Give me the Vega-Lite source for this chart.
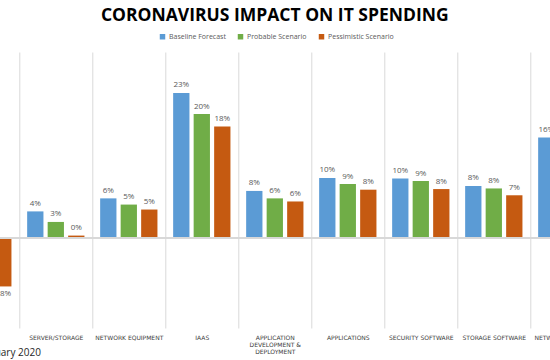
{
  "$schema": "https://vega.github.io/schema/vega-lite/v6.json",
  "width": 657,
  "height": 276,
  "autosize": "none",
  "padding": {"left": -53.7, "top": 52, "right": -53.3, "bottom": 32},
  "title": {"text": "CORONAVIRUS IMPACT ON IT SPENDING", "font": "Open Sans", "fontSize": 17.5, "fontWeight": "bold", "color": "#000000", "anchor": "middle", "offset": 9},
  "config": {
    "view": {"stroke": null},
    "font": "Open Sans"
  },
  "data": {"values": [
    {"category": "Devices", "series": "Pessimistic Scenario", "value": -0.078},
    {"category": "Server/Storage", "series": "Baseline Forecast", "value": 0.043},
    {"category": "Server/Storage", "series": "Probable Scenario", "value": 0.026},
    {"category": "Server/Storage", "series": "Pessimistic Scenario", "value": 0.004},
    {"category": "Network Equipment", "series": "Baseline Forecast", "value": 0.064},
    {"category": "Network Equipment", "series": "Probable Scenario", "value": 0.054},
    {"category": "Network Equipment", "series": "Pessimistic Scenario", "value": 0.046},
    {"category": "IaaS", "series": "Baseline Forecast", "value": 0.234},
    {"category": "IaaS", "series": "Probable Scenario", "value": 0.200},
    {"category": "IaaS", "series": "Pessimistic Scenario", "value": 0.180},
    {"category": "Application Development & Deployment", "series": "Baseline Forecast", "value": 0.076},
    {"category": "Application Development & Deployment", "series": "Probable Scenario", "value": 0.064},
    {"category": "Application Development & Deployment", "series": "Pessimistic Scenario", "value": 0.059},
    {"category": "Applications", "series": "Baseline Forecast", "value": 0.097},
    {"category": "Applications", "series": "Probable Scenario", "value": 0.087},
    {"category": "Applications", "series": "Pessimistic Scenario", "value": 0.078},
    {"category": "Security Software", "series": "Baseline Forecast", "value": 0.096},
    {"category": "Security Software", "series": "Probable Scenario", "value": 0.092},
    {"category": "Security Software", "series": "Pessimistic Scenario", "value": 0.079},
    {"category": "Storage Software", "series": "Baseline Forecast", "value": 0.084},
    {"category": "Storage Software", "series": "Probable Scenario", "value": 0.080},
    {"category": "Storage Software", "series": "Pessimistic Scenario", "value": 0.069},
    {"category": "Network Software", "series": "Baseline Forecast", "value": 0.162}
  ]},
  "encoding": {
    "y": {"field": "value", "type": "quantitative", "scale": {"domain": [-0.145, 0.30], "nice": false, "zero": false}, "axis": null}
  },
  "layer": [
    {
      "encoding": {
        "x": {"field": "category", "type": "nominal", "sort": null,
          "scale": {"type": "band", "paddingInner": 0, "paddingOuter": 0},
          "axis": {
            "title": "Source: IDC, February 2020", "titleX": -32, "titleY": 24, "titleAnchor": "start", "titleAlign": "left", "titleBaseline": "middle",
            "titleFont": "Open Sans", "titleFontSize": 10, "titleFontWeight": "normal", "titleColor": "#262626",
            "domain": false, "ticks": false, "grid": true, "tickBand": "extent", "gridColor": "#d9d9d9", "gridWidth": 1,
            "labelAngle": 0, "labelFont": "DejaVu Sans", "labelFontSize": 6, "labelColor": "#404040", "labelPadding": 6, "labelLineHeight": 7, "labelLimit": 0,
            "labelExpr": "datum.label == 'Devices' ? '' : datum.label == 'Application Development & Deployment' ? ['APPLICATION', 'DEVELOPMENT &', 'DEPLOYMENT'] : upper(datum.label)"
          }
        },
        "xOffset": {"field": "series", "type": "nominal",
          "scale": {"domain": ["Baseline Forecast", "Probable Scenario", "Pessimistic Scenario"], "paddingInner": 0.205, "paddingOuter": 0.383}}
      },
      "layer": [
        {
          "mark": {"type": "bar"},
          "encoding": {
            "color": {"field": "series", "type": "nominal",
              "scale": {"domain": ["Baseline Forecast", "Probable Scenario", "Pessimistic Scenario"], "range": ["#5B9BD5", "#70AD47", "#C55A11"]},
              "legend": {"title": null, "orient": "none", "legendX": 212.7, "legendY": -19, "direction": "horizontal", "symbolType": "square", "symbolSize": 30, "symbolStrokeWidth": 0,
                "labelFont": "Open Sans", "labelFontSize": 7, "labelColor": "#595959", "columnPadding": 11, "labelOffset": 3}}
          }
        },
        {
          "transform": [{"filter": "datum.value >= 0"}],
          "mark": {"type": "text", "baseline": "bottom", "dy": -3.5, "fontSize": 8, "color": "#595959", "font": "Open Sans"},
          "encoding": {
            "text": {"field": "value", "type": "quantitative", "format": ".0%"}
          }
        },
        {
          "transform": [{"filter": "datum.value < 0"}],
          "mark": {"type": "text", "baseline": "top", "dy": 4, "fontSize": 8, "color": "#595959", "font": "Open Sans"},
          "encoding": {
            "text": {"field": "value", "type": "quantitative", "format": ".0%"}
          }
        }
      ]
    },
    {
      "mark": {"type": "rule", "color": "#d9d9d9", "strokeWidth": 1},
      "encoding": {"y": {"datum": 0, "type": "quantitative"}}
    }
  ]
}
